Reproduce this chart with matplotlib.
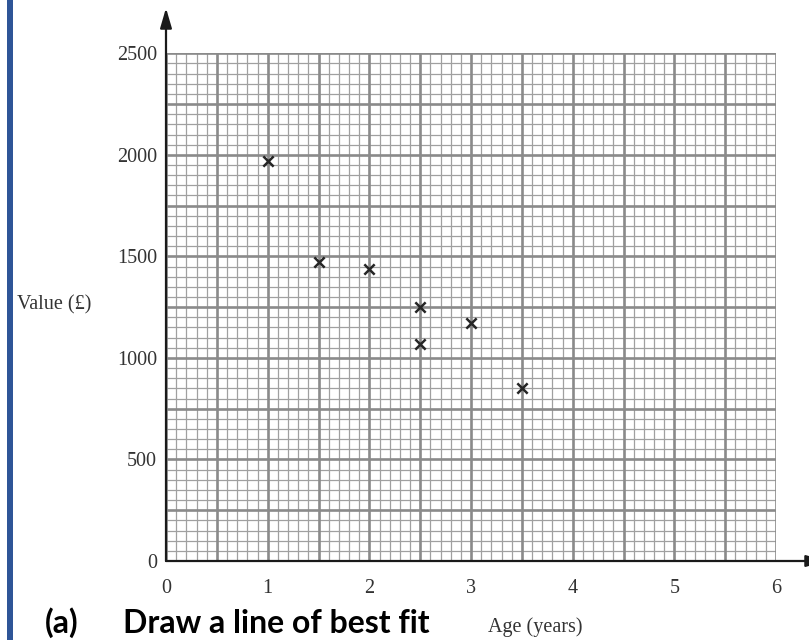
import numpy as np
import matplotlib
matplotlib.use("Agg")
import matplotlib.pyplot as plt
from matplotlib.patches import FancyArrowPatch, Rectangle

# data
age = [1, 1.5, 2, 2.5, 2.5, 3, 3.5]
value = [1970, 1470, 1440, 1250, 1070, 1170, 850]
x_ticks = [0, 1, 2, 3, 4, 5, 6]
y_ticks = [0, 500, 1000, 1500, 2000, 2500]

W, H = 809, 640
fig = plt.figure(figsize=(W / 100, H / 100), dpi=100)
fig.patch.set_facecolor("white")

x0, x1, y0, y1 = 166, 776, 561, 53.3
ax = fig.add_axes([x0 / W, 1 - y0 / H, (x1 - x0) / W, (y0 - y1) / H])
ax.set_xlim(0, 6)
ax.set_ylim(0, 2500)

# graph paper
for gx in np.arange(0, 6.001, 0.1):
    major = abs(gx * 2 - round(gx * 2)) < 1e-6
    ax.axvline(gx, color="#8a8a8a" if major else "#a0a0a0",
               lw=1.9 if major else 0.9, zorder=1 if major else 0)
for gy in np.arange(0, 2500.1, 50):
    major = abs(gy / 250 - round(gy / 250)) < 1e-6
    ax.axhline(gy, color="#8a8a8a" if major else "#a0a0a0",
               lw=1.9 if major else 0.9, zorder=1 if major else 0)

for s in ax.spines.values():
    s.set_visible(False)

ax.set_xticks(x_ticks)
ax.set_yticks(y_ticks)
serif = "Liberation Serif"
ax.tick_params(length=0, labelsize=14.5, labelcolor="#333333")
ax.tick_params(axis="x", pad=13)
ax.tick_params(axis="y", pad=6.5)
for lab in ax.get_xticklabels() + ax.get_yticklabels():
    lab.set_fontfamily(serif)

ax.scatter(age, value, marker="x", s=55, color="#262626", linewidths=1.8, zorder=5)

# axes with arrows
ax_col = "#1a1a1a"
fig.add_artist(FancyArrowPatch((x0 / W, 1 - y0 / H), (x0 / W, 1 - 8 / H),
                               transform=fig.transFigure,
                               arrowstyle="-|>,head_length=1.2,head_width=0.35",
                               mutation_scale=10, lw=1.6, color=ax_col,
                               shrinkA=0, shrinkB=0))
fig.add_artist(FancyArrowPatch((x0 / W, 1 - y0 / H), (826 / W, 1 - y0 / H),
                               transform=fig.transFigure,
                               arrowstyle="-|>,head_length=1.2,head_width=0.35",
                               mutation_scale=10, lw=1.6, color=ax_col,
                               shrinkA=0, shrinkB=0))

fig.text(17 / W, 1 - 305 / H, "Value (£)", family=serif, fontsize=14.5,
         color="#333333", ha="left", va="center")
fig.text(535 / W, 1 - 627 / H, "Age (years)", family=serif, fontsize=14.5,
         color="#333333", ha="center", va="center")

# question text at the bottom
fig.text(45 / W, 1 - 633 / H, "(a)", family="Lato", weight="bold",
         fontsize=23, color="black", ha="left", va="baseline")
fig.text(123 / W, 1 - 633 / H, "Draw a line of best fit", family="Lato",
         weight="bold", fontsize=23, color="black", ha="left", va="baseline")

# blue margin bar
fig.add_artist(Rectangle((7 / W, 0), 5.5 / W, 1, transform=fig.transFigure,
                         color="#2F5597", lw=0))

fig.savefig("out.png", dpi=100)
